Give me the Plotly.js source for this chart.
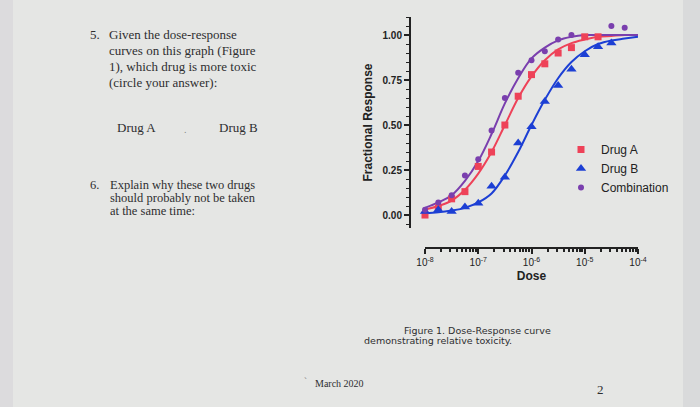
<!DOCTYPE html>
<html>
<head>
<meta charset="utf-8">
<script src="https://cdn.plot.ly/plotly-3.0.1.min.js"></script>
<style>
  html, body { margin: 0; padding: 0; background: #e5e6e4; }
  #chart { width: 700px; height: 407px; }
</style>
</head>
<body>
<div id="chart"></div>
<script>
// log10 of dose, one point every quarter decade
const logDose = [-8, -7.75, -7.5, -7.25, -7, -6.75, -6.5, -6.25, -6, -5.75, -5.5, -5.25, -5, -4.75, -4.5, -4.25, -4];

// measured points
const drugA = [0.00, 0.04, 0.09, 0.13, 0.27, 0.35, 0.50, 0.66, 0.78, 0.84, 0.90, 0.93, 0.99, 0.99, null, null, 0.98];
const drugB = [0.02, 0.03, 0.02, 0.045, 0.065, 0.16, 0.21, 0.40, 0.49, 0.63, 0.72, 0.81, 0.89, 0.935, 0.955, null, 0.99];
const combo = [0.03, 0.07, 0.11, 0.22, 0.31, 0.47, 0.65, 0.79, 0.86, 0.91, 0.975, 1.00, null, null, 1.05, 1.04, 1.02];

// fitted curves at the same doses
const fitA = [0.03, 0.05, 0.08, 0.14, 0.23, 0.35, 0.50, 0.65, 0.77, 0.86, 0.92, 0.955, 0.975, 0.99, 0.995, 1.0, 1.0];
const fitB = [0.01, 0.015, 0.025, 0.04, 0.07, 0.12, 0.22, 0.35, 0.50, 0.64, 0.76, 0.85, 0.91, 0.95, 0.97, 0.98, 0.99];
const fitC = [0.04, 0.07, 0.11, 0.19, 0.30, 0.45, 0.62, 0.76, 0.87, 0.93, 0.97, 0.99, 1.0, 1.0, 1.0, 1.0, 1.0];

const dose = logDose.map(v => Math.pow(10, v));

const RED = '#ee4258';
const BLUE = '#1c3fd4';
const PURPLE = '#7a3fae';

function fitLine(y, color) {
  return {
    x: dose, y: y, type: 'scatter', mode: 'lines',
    line: { color: color, width: 2, shape: 'spline' },
    showlegend: false, hoverinfo: 'skip'
  };
}

function pts(y, name, color, symbol, size) {
  return {
    x: dose, y: y, type: 'scatter', mode: 'markers', name: name,
    marker: { color: color, symbol: symbol, size: size },
    cliponaxis: false
  };
}

const traces = [
  fitLine(fitA, RED),
  fitLine(fitB, BLUE),
  fitLine(fitC, PURPLE),
  pts(drugA, 'Drug A', RED, 'square', 7),
  pts(drugB, 'Drug B', BLUE, 'triangle-up', 9),
  pts(combo, 'Combination', PURPLE, 'circle', 6)
];

const serif = 'Liberation Serif, Times New Roman, serif';
const sans = 'Liberation Sans, Arial, sans-serif';
const ink = '#2e2e30';

function note(text, x, y, size, family, color) {
  return {
    text: text, x: x / 700, y: 1 - y / 407, xref: 'paper', yref: 'paper',
    xanchor: 'left', yanchor: 'middle', showarrow: false,
    font: { family: family || serif, size: size || 13, color: color || ink }
  };
}

const layout = {
  width: 700, height: 407,
  margin: { l: 0, r: 0, t: 0, b: 0 },
  paper_bgcolor: '#e5e6e4',
  plot_bgcolor: 'rgba(0,0,0,0)',
  xaxis: {
    type: 'log',
    range: [-8, -4],
    domain: [425 / 700, 638 / 700],
    anchor: 'free',
    position: 1 - 248 / 407,
    showline: true, linecolor: '#222', linewidth: 2,
    ticks: 'outside', ticklen: 5, tickwidth: 2, tickcolor: '#222',
    tickvals: [1e-8, 1e-7, 1e-6, 1e-5, 1e-4],
    ticktext: ['10<sup>-8</sup>', '10<sup>-7</sup>', '10<sup>-6</sup>', '10<sup>-5</sup>', '10<sup>-4</sup>'],
    minor: { ticks: 'outside', dtick: 'D1', ticklen: 3, tickwidth: 1.5, tickcolor: '#222', showgrid: false },
    showgrid: false, zeroline: false,
    tickfont: { family: sans, size: 10, color: '#222' },
    title: { text: '<b>Dose</b>', standoff: 4, font: { family: sans, size: 12, color: '#222' } }
  },
  yaxis: {
    range: [-0.072, 1.1],
    domain: [1 - 228 / 407, 1 - 17 / 407],
    anchor: 'free',
    position: 410 / 700,
    showline: true, linecolor: '#222', linewidth: 2,
    ticks: 'outside', ticklen: 5, tickwidth: 2, tickcolor: '#222',
    tickvals: [0, 0.25, 0.5, 0.75, 1],
    ticktext: ['<b>0.00</b>', '<b>0.25</b>', '<b>0.50</b>', '<b>0.75</b>', '<b>1.00</b>'],
    minor: { ticks: 'outside', ticklen: 3, tickwidth: 1, tickcolor: '#222', dtick: 0.05, showgrid: false },
    showgrid: false, zeroline: false,
    tickfont: { family: sans, size: 10, color: '#222' },
    title: { text: '<b>Fractional Response</b>', standoff: 6, font: { family: sans, size: 12, color: '#222' } }
  },
  legend: {
    x: 561 / 700, y: 1 - 135 / 407, xanchor: 'left', yanchor: 'top',
    bgcolor: 'rgba(0,0,0,0)', tracegroupgap: 0, itemwidth: 30,
    font: { family: sans, size: 12, color: '#222' }
  },
  shapes: [
    { type: 'rect', xref: 'paper', yref: 'paper', x0: 0, x1: 13 / 700, y0: 0, y1: 1, fillcolor: '#dcdbdd', line: { width: 0 }, layer: 'below' },
    { type: 'rect', xref: 'paper', yref: 'paper', x0: 683 / 700, x1: 1, y0: 0, y1: 1, fillcolor: '#d9dadb', line: { width: 0 }, layer: 'below' }
  ],
  annotations: [
    note('5.', 88, 35),
    note('Given the dose-response', 107, 35),
    note('curves on this graph (Figure', 107, 51),
    note('1), which drug is more toxic', 107, 67),
    note('(circle your answer):', 107, 83),
    note('Drug A', 115, 128),
    note('.', 182, 129, 10, serif, '#888'),
    note('Drug B', 217, 128),
    note('6.', 88, 185, 12.5),
    note('Explain why these two drugs', 108, 185, 12.5),
    note('should probably not be taken', 108, 198, 12.5),
    note('at the same time:', 108, 211, 12.5),
    note('Figure 1. Dose-Response curve', 402, 330, 9.5, 'DejaVu Sans, Verdana, sans-serif'),
    note('demonstrating relative toxicity.', 362, 340, 9.5, 'DejaVu Sans, Verdana, sans-serif'),
    note('\u02CB', 302, 381, 9, serif, '#777'),
    note('March 2020', 313, 383, 10),
    note('2', 595, 389, 13)
  ]
};

Plotly.newPlot('chart', traces, layout, { displayModeBar: false, responsive: true });
</script>
</body>
</html>
